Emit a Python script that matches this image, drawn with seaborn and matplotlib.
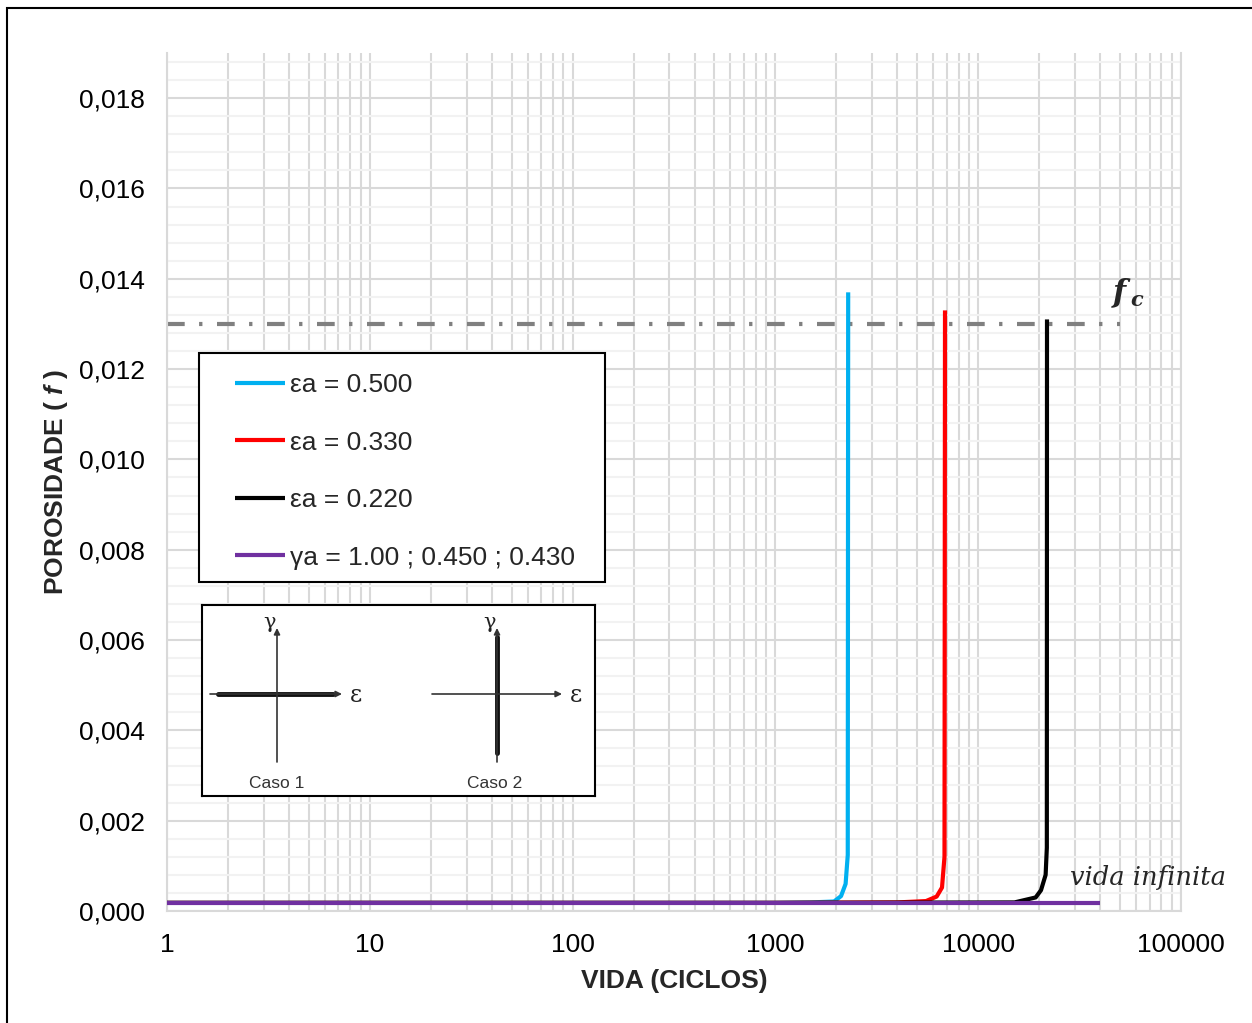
import matplotlib
matplotlib.use("Agg")
import matplotlib.pyplot as plt
import seaborn as sns
import pandas as pd
from matplotlib.ticker import FixedLocator, MultipleLocator, FuncFormatter, NullFormatter
from matplotlib.patches import Rectangle

# ---------------- data ----------------
n_blue = [1, 100, 1000, 1500, 1945, 2107, 2219, 2274, 2285]
f_blue = [0.00018, 0.00018, 0.00018, 0.00019, 0.00021, 0.00033, 0.00060, 0.00124, 0.0137]

n_red = [1, 1000, 4000, 5530, 6240, 6630, 6820, 6860]
f_red = [0.00018, 0.00018, 0.00019, 0.00022, 0.00032, 0.00052, 0.00120, 0.0133]

n_black = [1, 1000, 15100, 19200, 20400, 21500, 21800, 21840]
f_black = [0.00018, 0.00018, 0.00019, 0.00030, 0.00046, 0.00080, 0.00140, 0.0131]

n_purple = [1, 40000]
f_purple = [0.00018, 0.00018]

n_fc = [1, 50000]
f_fc = [0.013, 0.013]

labels = ["εa = 0.500", "εa = 0.330", "εa = 0.220", "γa = 1.00 ; 0.450 ; 0.430"]
colors = ["#00B0F0", "#FF0000", "#000000", "#7030A0"]
x_ticks = [1, 10, 100, 1000, 10000, 100000]
x_ticklabels = ["1", "10", "100", "1000", "10000", "100000"]

# ---------------- style ----------------
sns.set_style("white")
plt.rcParams["font.family"] = ["Liberation Sans", "DejaVu Sans"]
plt.rcParams["mathtext.fontset"] = "custom"
plt.rcParams["mathtext.it"] = "Liberation Sans:italic:bold"
plt.rcParams["mathtext.rm"] = "Liberation Sans:bold"

W, H = 1252, 1023
fig = plt.figure(figsize=(W / 100, H / 100), dpi=100)
fig.patch.set_facecolor("white")


def fx(x):
    return x / W


def fy(y):
    return 1 - y / H


ax = fig.add_axes([fx(167), fy(911), (1181 - 167) / W, (911 - 53) / H])
ax.set_xscale("log")

series = [(n_blue, f_blue), (n_red, f_red), (n_black, f_black), (n_purple, f_purple)]
handles = []
for i, ((n, f), lab, col) in enumerate(zip(series, labels, colors)):
    df = pd.DataFrame({"N": n, "f": f})
    sns.lineplot(data=df, x="N", y="f", ax=ax, color=col, lw=3, sort=False,
                 estimator=None, zorder=3 + (1 if i == 3 else 0),
                 solid_capstyle="butt", solid_joinstyle="round")
    handles.append(ax.lines[-1])

df_fc = pd.DataFrame({"N": n_fc, "f": f_fc})
sns.lineplot(data=df_fc, x="N", y="f", ax=ax, color="#808080", lw=3,
             sort=False, estimator=None, zorder=2.5,
             linestyle=(0, (4.25, 3.45, 0.8, 3.5)), dash_capstyle="butt")

ax.set_xlim(1, 100000)
ax.set_ylim(0, 0.019)

ax.xaxis.set_major_locator(FixedLocator(x_ticks))
ax.set_xticklabels(x_ticklabels)
minors = [m * 10 ** d for d in range(0, 5) for m in range(2, 10)]
ax.xaxis.set_minor_locator(FixedLocator(minors))
ax.xaxis.set_minor_formatter(NullFormatter())

ax.yaxis.set_major_locator(MultipleLocator(0.002))
ax.yaxis.set_minor_locator(MultipleLocator(0.0004))
ax.yaxis.set_major_formatter(FuncFormatter(lambda v, p: f"{v:.3f}".replace(".", ",")))

ax.grid(which="major", axis="both", color="#D9D9D9", lw=1.5, zorder=0)
ax.grid(which="minor", axis="x", color="#D9D9D9", lw=1.5, zorder=0)
ax.grid(which="minor", axis="y", color="#F2F2F2", lw=1.5, zorder=0)
ax.set_axisbelow(True)

ax.tick_params(axis="both", which="both", length=0, labelsize=19, colors="black")
ax.tick_params(axis="x", pad=16)
ax.tick_params(axis="y", pad=16)

for s in ["left", "bottom", "right"]:
    ax.spines[s].set_color("#D9D9D9")
    ax.spines[s].set_linewidth(1.5)
ax.spines["top"].set_visible(False)

ax.set_xlabel("VIDA (CICLOS)", fontsize=19, fontweight="bold", va="center")
ax.xaxis.set_label_coords(0.5, (911 - 981) / (911 - 53))
ax.set_ylabel("POROSIDADE ( $f$ )", fontsize=19, fontweight="bold", va="center")
ax.yaxis.set_label_coords((56 - 167) / (1181 - 167), 0.5)

# legend with manual frame
frame = Rectangle((fx(199), fy(582)), 406 / W, 229 / H, transform=fig.transFigure,
                  facecolor="white", edgecolor="black", lw=1.5, zorder=4, clip_on=False)
ax.add_artist(frame)
leg = ax.legend(handles, labels, loc="upper left",
                bbox_to_anchor=(fx(235), fy(353 + 20)), bbox_transform=fig.transFigure,
                frameon=False, fontsize=19, handlelength=1.9, handletextpad=0.2,
                labelspacing=1.27, borderpad=0, borderaxespad=0)
leg.set_zorder(5)

# f_c label and "vida infinita"
fig.text(fx(1113), fy(293), "f", fontsize=22, family="DejaVu Serif", style="italic",
         fontweight="bold", va="center", ha="left")
fig.text(fx(1130), fy(300), "c", fontsize=15, family="DejaVu Serif", style="italic",
         fontweight="bold", va="center", ha="left")
fig.text(fx(1148), fy(878), "vida infinita", fontsize=18.5, family="DejaVu Serif",
         style="italic", va="center", ha="center")

# inset with the loading cases
ins = fig.add_axes([fx(202), fy(796), 393 / W, 191 / H])
ins.set_xlim(0, 393)
ins.set_ylim(191, 0)
ins.set_xticks([])
ins.set_yticks([])
ins.set_facecolor("white")
for s in ins.spines.values():
    s.set_linewidth(1.5)
    s.set_color("black")

ap = dict(arrowstyle="-|>", lw=1.2, color="#333333", mutation_scale=9, shrinkA=0, shrinkB=0)
# Caso 1
ins.annotate("", xy=(140, 89), xytext=(8, 89), arrowprops=ap)
ins.annotate("", xy=(75, 23), xytext=(75, 157), arrowprops=ap)
ins.plot([16, 131], [89, 89], color="#111111", lw=3.5, solid_capstyle="round")
ins.text(68, 17, "γ", fontsize=15, family="DejaVu Serif", ha="center", va="center", color="#222222")
ins.text(154, 90, "ε", fontsize=17, family="DejaVu Serif", ha="center", va="center", color="#222222")
ins.text(75, 179, "Caso 1", fontsize=12.5, ha="center", va="center", color="#333333")
# Caso 2
ins.annotate("", xy=(360, 89), xytext=(230, 89), arrowprops=ap)
ins.annotate("", xy=(295, 23), xytext=(295, 157), arrowprops=ap)
ins.plot([295, 295], [32, 148], color="#111111", lw=3.5, solid_capstyle="round")
ins.text(288, 17, "γ", fontsize=15, family="DejaVu Serif", ha="center", va="center", color="#222222")
ins.text(374, 90, "ε", fontsize=17, family="DejaVu Serif", ha="center", va="center", color="#222222")
ins.text(293, 179, "Caso 2", fontsize=12.5, ha="center", va="center", color="#333333")

# outer border of the chart area
border = Rectangle((fx(7), -0.2), 2.0, fy(8) + 0.2, transform=fig.transFigure,
                   fill=False, edgecolor="black", lw=1.5, zorder=10, clip_on=False)
fig.patches.append(border)

fig.savefig("out.png", dpi=100, facecolor="white")
